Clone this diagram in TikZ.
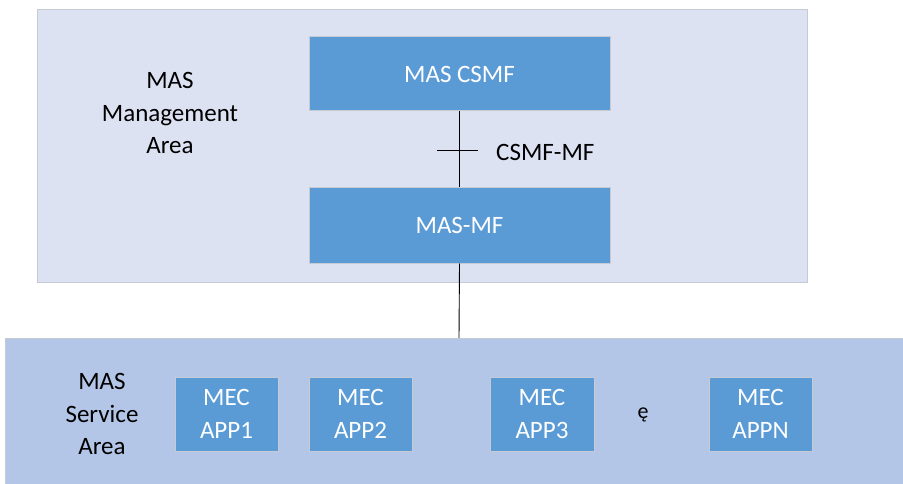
\documentclass[tikz,border=0pt]{standalone}
\usepackage{fontspec}
\setmainfont{Carlito}
\definecolor{mgmtfill}{HTML}{DCE2F2}
\definecolor{svcfill}{HTML}{B4C6E7}
\definecolor{boxfill}{HTML}{5B9BD5}
\definecolor{edgegray}{HTML}{C5CAD3}
\begin{document}
\begin{tikzpicture}[x=1pt,y=-1pt,
  area/.style={draw=edgegray,line width=1pt},
  fbox/.style={draw=edgegray,line width=1pt,fill=boxfill,text=white,
    font=\fontsize{25}{32.5}\selectfont,align=center,inner sep=0pt},
  lbl/.style={font=\fontsize{25}{32.5}\selectfont,align=center,inner sep=0pt},
  link/.style={draw=black,line width=0.9pt}]
\useasboundingbox (0,0) rectangle (903,484);
% areas
\path[area,fill=mgmtfill] (37,10) rectangle (807,282);
\path[area,fill=svcfill] (5,338) rectangle (906,487);
\coordinate (mgmtbot) at (459,282);
\coordinate (svctop) at (459,338);
% management area
\node[lbl] (mgmtlbl) at (170,113) {MAS\\Management\\Area};
\node[fbox,minimum width=301pt,minimum height=74pt] (csmf) at (459.5,74) {MAS CSMF};
\node[fbox,minimum width=301pt,minimum height=75pt] (mf) at (459.5,225.5) {MAS-MF};
\draw[link] (csmf.south) -- (mf.north);
\coordinate (tickl) at (437,150);
\coordinate (tickr) at (478,150);
\draw[link] (tickl) -- (tickr);
\node[lbl,anchor=west] (iflbl) at (496,152) {CSMF-MF};
\draw[link] (mf.south) -- (svctop);
% service area
\node[lbl] (svclbl) at (102,414) {MAS\\Service\\Area};
\node[fbox,minimum width=103pt,minimum height=74pt] (app1) at (226.5,414) {MEC\\APP1};
\node[fbox,minimum width=103pt,minimum height=74pt] (app2) at (360.5,414) {MEC\\APP2};
\node[fbox,minimum width=104pt,minimum height=74pt] (app3) at (542,414) {MEC\\APP3};
\node[lbl,font=\fontsize{22}{26}\selectfont] (dots) at (643,415) {ę};
\node[fbox,minimum width=103pt,minimum height=74pt] (appn) at (760.5,414) {MEC\\APPN};
\end{tikzpicture}
\end{document}
